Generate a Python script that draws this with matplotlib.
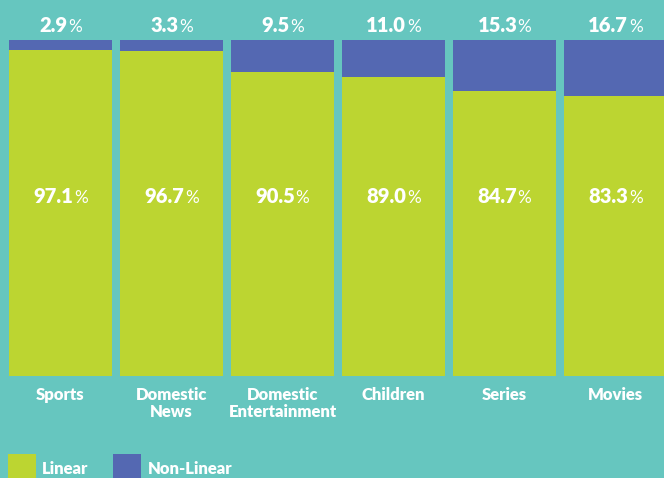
import matplotlib
matplotlib.use("Agg")
import matplotlib.pyplot as plt
from matplotlib.patches import Rectangle

categories = ["Sports", "Domestic\nNews", "Domestic\nEntertainment", "Children", "Series", "Movies"]
linear = [97.1, 96.7, 90.5, 89.0, 84.7, 83.3]
non_linear = [2.9, 3.3, 9.5, 11.0, 15.3, 16.7]
series_names = ["Linear", "Non-Linear"]

BG = "#66C6BF"
GREEN = "#BCD531"
BLUE = "#5468B2"
FONT = "Lato"
HEAVY = "heavy"

W, H = 664, 478
fig = plt.figure(figsize=(W / 100, H / 100), dpi=100, facecolor=BG)
ax = fig.add_axes([0, 0, 1, 1])
ax.set_facecolor(BG)

px_per_unit = 111.0
x0 = -60.5 / px_per_unit
x1 = (W - 60.5) / px_per_unit
ypp = 336 / 100.0
y_top = 100 + 40 / ypp
y_bot = -(H - 376) / ypp
ax.set_xlim(x0, x1)
ax.set_ylim(y_bot, y_top)
ax.axis("off")

xs = list(range(len(categories)))
bw = 103 / px_per_unit
ax.bar(xs, linear, width=bw, color=GREEN, linewidth=0)
ax.bar(xs, non_linear, width=bw, bottom=linear, color=BLUE, linewidth=0)

fig.canvas.draw()
renderer = fig.canvas.get_renderer()


def pct_label(x, y, value, size):
    num = ax.text(x, y, f"{value:.1f}", fontsize=size, fontweight=HEAVY, family=FONT,
                  color="white", ha="left", va="baseline")
    pc = ax.text(x, y, "%", fontsize=size * 0.85, fontweight="normal", family=FONT,
                 color="white", ha="left", va="baseline")
    bn = num.get_window_extent(renderer)
    bp = pc.get_window_extent(renderer)
    gap = 0.5
    total = bn.width + bp.width + gap
    cx = ax.transData.transform((x, y))[0]
    left = cx - total / 2
    inv = ax.transData.inverted()
    num.set_x(inv.transform((left, 0))[0])
    pc.set_x(inv.transform((left + bn.width + gap, 0))[0])


top_y = (376 - 32) / ypp
mid_y = (376 - 203) / ypp
for i in xs:
    pct_label(i, top_y, non_linear[i], 14.5)
    pct_label(i, mid_y, linear[i], 14.5)
    ax.text(i, (376 - 387) / ypp, categories[i], fontsize=12, fontweight=HEAVY,
            family=FONT, color="white", ha="center", va="top", linespacing=1.05)


def fx(p):
    return p / W


def fy(p):
    return 1 - p / H


fig.patches.append(Rectangle((fx(8), fy(480)), 28 / W, 26 / H, transform=fig.transFigure,
                             color=GREEN, linewidth=0))
fig.patches.append(Rectangle((fx(113), fy(480)), 28 / W, 26 / H, transform=fig.transFigure,
                             color=BLUE, linewidth=0))
fig.text(fx(42), fy(469), series_names[0], fontsize=12, fontweight=HEAVY, family=FONT,
         color="white", ha="left", va="center")
fig.text(fx(148), fy(469), series_names[1], fontsize=12, fontweight=HEAVY, family=FONT,
         color="white", ha="left", va="center")

fig.savefig("out.png", dpi=100, facecolor=BG)
